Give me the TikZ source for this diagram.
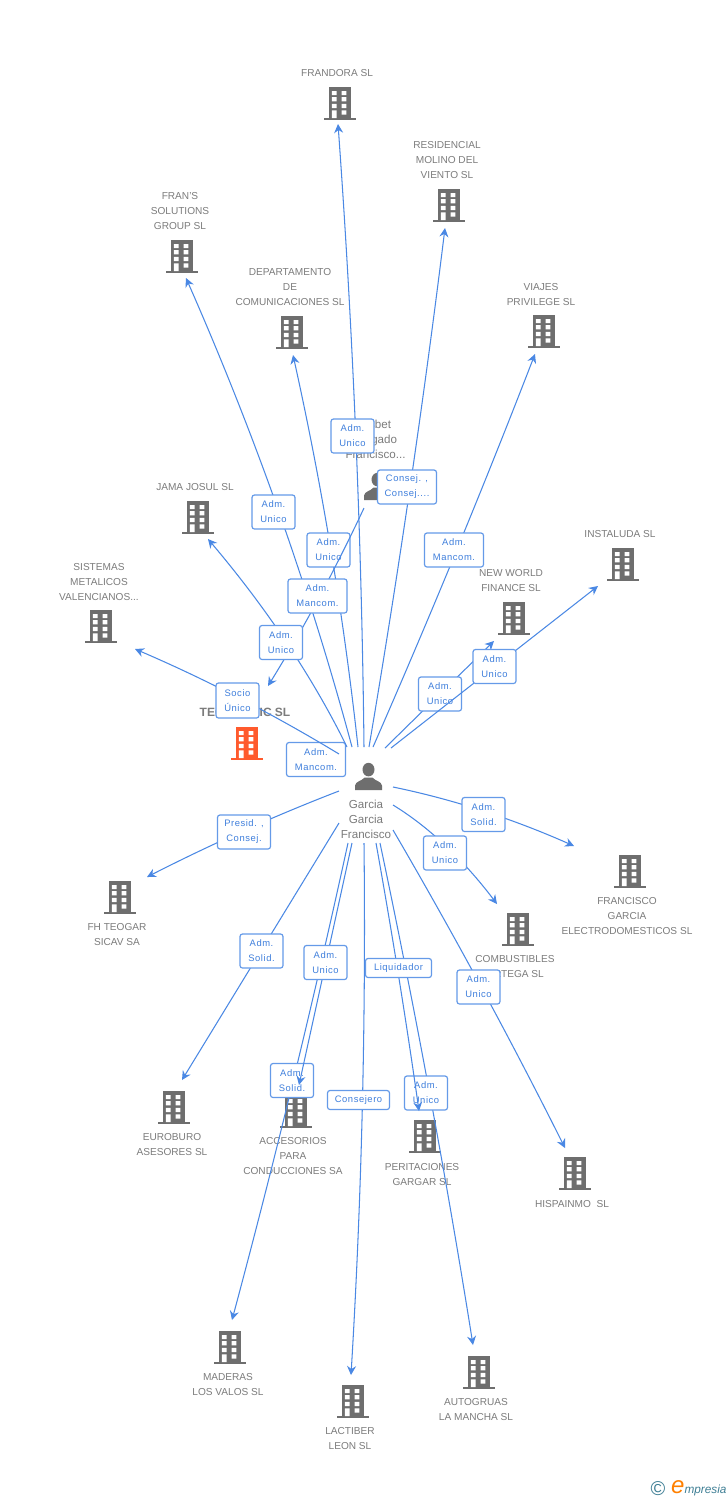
\documentclass[tikz,border=0pt]{standalone}
\usepackage{fontspec}
\setmainfont{Liberation Sans}
\newfontfamily\lblfont[LetterSpace=6]{Liberation Sans}
\usetikzlibrary{arrows.meta,calc}
\definecolor{linkblue}{HTML}{4A88E4}
\definecolor{lbltext}{HTML}{3F7FDC}
\definecolor{iconGray}{HTML}{6E6E6E}
\definecolor{txtGray}{HTML}{7C7C7C}
\definecolor{brandOrange}{HTML}{FF5A2D}
\definecolor{logoBlue}{HTML}{3F7F95}
\tikzset{
  conn/.style={draw=linkblue,line width=1.05pt,-{Stealth[length=9pt,width=9pt,inset=3pt]}},
  lbl/.style={draw=linkblue!85,line width=1.2pt,fill=white,rounded corners=2.5pt,inner sep=0pt,
    minimum height=34pt,align=center,text=lbltext,font=\lblfont\fontsize{9.4}{15}\selectfont},
  lblw/.style={lbl,minimum width=43pt},
  lblm/.style={lbl,minimum width=59pt},
  lbln/.style={lbl,minimum height=19pt},
  captxt/.style={text=txtGray,align=center,inner sep=0pt,yshift=-0.8pt,font=\fontsize{10.1}{15}\selectfont},
}
% quadratic connector from #1 to #3 with control point #2
\newcommand{\qconn}[3]{\draw[conn] (#1) .. controls ($(#1)!0.667!(#2)$) and ($(#3)!0.667!(#2)$) .. (#3);}
% building icon: #1 x centre, #2 y of the base, #3 colour
\newcommand{\bldg}[3]{%
  \begin{scope}[shift={(#1-11,#2-33)}]
    \fill[#3] (0,0) rectangle (22,31.5);
    \fill[#3] (-5,31) rectangle (27,33);
    \fill[white] (2.8,4) rectangle (7.6,8.2) (12.6,4) rectangle (17.4,8.2)
      (2.8,10.2) rectangle (7.6,14.4) (12.6,10.2) rectangle (17.4,14.4)
      (2.8,16.8) rectangle (7.6,21) (12.6,16.8) rectangle (17.4,21)
      (2.8,23.4) rectangle (7.6,31.2) (12.6,23.4) rectangle (17.4,27.6);
  \end{scope}}
% person icon: #1 x centre, #2 top
\newcommand{\persona}[2]{%
  \begin{scope}[shift={(#1,#2)}]
    \fill[iconGray] (0,6.6) ellipse (6 and 6.8);
    \fill[iconGray] (-13.5,27) -- (-13.5,22.5) .. controls (-13,18.5) and (-7,18) .. (-3.8,14.5)
      -- (3.8,14.5) .. controls (7,18) and (13,18.5) .. (13.5,22.5) -- (13.5,27) -- cycle;
  \end{scope}}
\begin{document}
\begin{tikzpicture}[x=1pt,y=-1pt]
\useasboundingbox (0,0) rectangle (728,1500);
\fill[white] (0,0) rectangle (728,1500);

% icons
\bldg{340}{120}{iconGray}
\bldg{449}{222}{iconGray}
\bldg{182}{273}{iconGray}
\bldg{292}{349}{iconGray}
\bldg{544}{348}{iconGray}
\bldg{198}{534}{iconGray}
\bldg{623}{581}{iconGray}
\bldg{514}{635}{iconGray}
\bldg{101}{643}{iconGray}
\bldg{247}{760}{brandOrange}
\bldg{120}{914}{iconGray}
\bldg{630}{888}{iconGray}
\bldg{518}{946}{iconGray}
\bldg{174}{1124}{iconGray}
\bldg{296}{1128}{iconGray}
\bldg{425}{1153}{iconGray}
\bldg{575}{1190}{iconGray}
\bldg{230}{1364}{iconGray}
\bldg{353}{1418}{iconGray}
\bldg{479}{1389}{iconGray}
\persona{377.5}{473}
\persona{368.5}{763}

% captions
\node[captxt] (nFrandora) at (337,72) {FRANDORA SL};
\node[captxt] (nResid) at (447,159) {RESIDENCIAL\\MOLINO DEL\\VIENTO SL};
\node[captxt] (nFrans) at (180,210) {FRAN'S\\SOLUTIONS\\GROUP SL};
\node[captxt] (nDepto) at (290,286) {DEPARTAMENTO\\DE\\COMUNICACIONES SL};
\node[captxt] (nViajes) at (541,293.5) {VIAJES\\PRIVILEGE SL};
\node[captxt] (nJama) at (195,486) {JAMA JOSUL SL};
\node[captxt] (nInsta) at (620,533) {INSTALUDA SL};
\node[captxt] (nWorld) at (511,579.5) {NEW WORLD\\FINANCE SL};
\node[captxt] (nSist) at (99,581) {SISTEMAS\\METALICOS\\VALENCIANOS...};
\node[captxt,font=\bfseries\fontsize{12}{15}\selectfont] (nTeo) at (245,712) {TEOGARNIC SL};
\node[captxt,font=\fontsize{11.6}{15}\selectfont] (nAlfa) at (375.5,439) {Lisbet\\Delgado\\Francisco...};
\node[captxt,font=\fontsize{11.6}{15}\selectfont] (nGarcia) at (366,819) {Garcia\\Garcia\\Francisco};
\node[captxt] (nFh) at (117,933.5) {FH TEOGAR\\SICAV SA};
\node[captxt] (nFco) at (627,915) {FRANCISCO\\GARCIA\\ELECTRODOMESTICOS SL};
\node[captxt] (nComb) at (515,965.5) {COMBUSTIBLES\\ORTEGA SL};
\node[captxt] (nEuro) at (172,1143.5) {EUROBURO\\ASESORES SL};
\node[captxt] (nAcc) at (293,1155) {ACCESORIOS\\PARA\\CONDUCCIONES SA};
\node[captxt] (nPeri) at (422,1173.5) {PERITACIONES\\GARGAR SL};
\node[captxt] (nHisp) at (572,1203) {HISPAINMO\ \ SL};
\node[captxt] (nMad) at (228,1383.5) {MADERAS\\LOS VALOS SL};
\node[captxt] (nLact) at (350,1437.5) {LACTIBER\\LEON SL};
\node[captxt] (nAuto) at (476,1408.5) {AUTOGRUAS\\LA MANCHA SL};

% connector ends
\coordinate (sFrans) at (352,747);   \coordinate (tFrans) at (186,278);
\coordinate (sDep) at (358,747);     \coordinate (tDep) at (293,355);
\coordinate (sFra) at (364,747);     \coordinate (tFra) at (338,124);
\coordinate (sRes) at (369,747);     \coordinate (tRes) at (445,228);
\coordinate (sVia) at (373,747);     \coordinate (tVia) at (535,354);
\coordinate (sJam) at (347,747);     \coordinate (tJam) at (208,539);
\coordinate (sAlf) at (364,508);     \coordinate (tAlf) at (268,686);
\coordinate (sWor) at (385,748);     \coordinate (tWor) at (494,641);
\coordinate (sIns) at (391,748);     \coordinate (tIns) at (598,586);
\coordinate (sSis) at (339,754);     \coordinate (tSis) at (135,649);
\coordinate (sSol) at (393,787);     \coordinate (tSol) at (574,846);
\coordinate (sUni) at (393,805);     \coordinate (tUni) at (497,904);
\coordinate (sPre) at (339,791);     \coordinate (tPre) at (147,877);
\coordinate (sEur) at (339,823);     \coordinate (tEur) at (182,1080);
\coordinate (sMad) at (348,843);     \coordinate (tMad) at (232,1320);
\coordinate (sAcc) at (352,843);     \coordinate (tAcc) at (299,1085);
\coordinate (sLac) at (364,843);     \coordinate (tLac) at (351,1375);
\coordinate (sAut) at (380,843);     \coordinate (tAut) at (473,1345);
\coordinate (sPer) at (376,843);     \coordinate (tPer) at (419,1111);
\coordinate (sHis) at (393,830);     \coordinate (tHis) at (565,1148);

% label without a visible line
\node[lblm] (lTeo) at (316,759.5) {Adm.\\Mancom.};

% connectors and their labels, in stacking order
\qconn{sSis}{240,694}{tSis}
\node[lblw,minimum height=35pt] (lSis) at (237.5,700.5) {Socio\\Único};

\qconn{sFrans}{289,512}{tFrans}
\node[lblw] (lFrans) at (273.5,512) {Adm.\\Unico};

\qconn{sDep}{336.5,551}{tDep}
\node[lblw] (lDep) at (328.5,550) {Adm.\\Unico};

\qconn{sAlf}{321,600}{tAlf}
\node[lblm] (lAlf) at (317.5,596) {Adm.\\Mancom.};

\qconn{sJam}{296,643}{tJam}
\node[lblw] (lJam) at (281,642.5) {Adm.\\Unico};

\qconn{sFra}{360.5,435.5}{tFra}
\node[lblw] (lFra) at (352.5,436) {Adm.\\Unico};

\qconn{sRes}{413,487.5}{tRes}
\node[lblm] (lRes) at (407,487) {Consej. ,\\Consej....};

\qconn{sVia}{459,550.5}{tVia}
\node[lblm] (lVia) at (454,550) {Adm.\\Mancom.};

\draw[conn] (sWor) -- (tWor);
\node[lblw] (lWor) at (440,694) {Adm.\\Unico};

\draw[conn] (sIns) -- (tIns);
\node[lblw] (lIns) at (494.5,666.5) {Adm.\\Unico};

\qconn{sSol}{483,805.5}{tSol}
\node[lblw] (lSol) at (483.5,814.5) {Adm.\\Solid.};

\qconn{sUni}{447,838}{tUni}
\node[lblw] (lUni) at (445,853) {Adm.\\Unico};

\qconn{sPre}{243,828}{tPre}
\node[lbl,minimum width=53pt] (lPre) at (244,832) {Presid. ,\\Consej.};

\draw[conn] (sEur) -- (tEur);
\node[lblw] (lEur) at (261.5,951) {Adm.\\Solid.};

\qconn{sMad}{296,1081.5}{tMad}
\node[lblw] (lMad) at (292,1080.5) {Adm.\\Solid.};

\draw[conn] (sAcc) -- (tAcc);
\node[lblw] (lAcc) at (325.5,962.5) {Adm.\\Unico};

\qconn{sLac}{367,1109}{tLac}
\node[lbln,minimum width=62pt] (lLac) at (358.5,1100) {Consejero};

\qconn{sAut}{433,1094}{tAut}
\node[lblw] (lAut) at (426,1093) {Adm.\\Unico};

\qconn{sPer}{400,977}{tPer}
\node[lbln,minimum width=66pt] (lPer) at (398.5,968) {Liquidador};

\qconn{sHis}{484,986}{tHis}
\node[lblw] (lHis) at (478.5,987) {Adm.\\Unico};

% logo
\node[inner sep=0pt,text=logoBlue,font=\fontsize{20}{20}\selectfont] (copy) at (658,1489) {©};
\node[inner sep=0pt,anchor=base west,font=\itshape\fontsize{11.8}{12}\selectfont,text=logoBlue] (brand) at (671,1493)
  {{\color{orange}\fontsize{24}{24}\selectfont e}mpresia};
\end{tikzpicture}
\end{document}
